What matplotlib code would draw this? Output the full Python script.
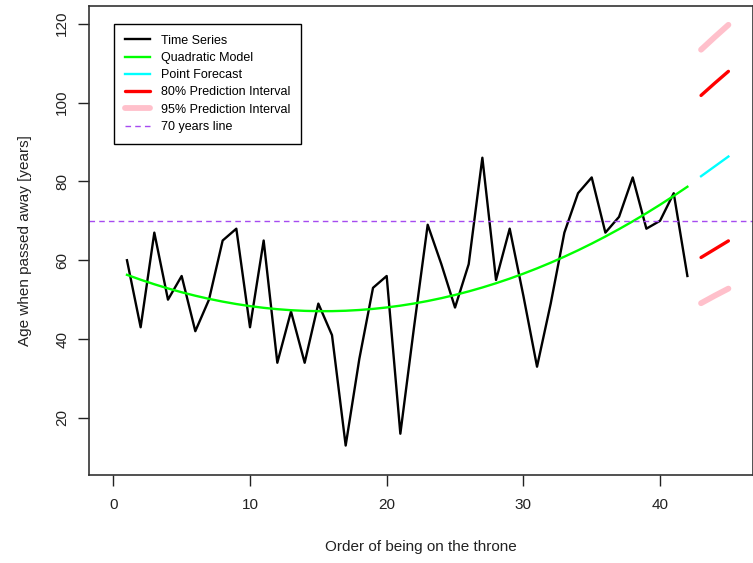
import numpy as np
import matplotlib.pyplot as plt

plt.rcParams['font.family'] = ['Liberation Sans', 'DejaVu Sans']

# ages of the kings of England when they died
ages = [60, 43, 67, 50, 56, 42, 50, 65, 68, 43, 65, 34, 47, 34, 49, 41, 13, 35, 53, 56, 16, 43,
        69, 59, 48, 59, 86, 55, 68, 51, 33, 49, 67, 77, 81, 67, 71, 81, 68, 70, 77, 56]
order = np.arange(1, len(ages) + 1)

# forecast for the next three kings
fc_x = [43, 44, 45]
fc_point = [81.3, 83.8, 86.3]
fc_lo80 = [60.7, 62.8, 64.9]
fc_hi80 = [101.8, 104.9, 107.9]
fc_lo95 = [49.1, 51.0, 52.8]
fc_hi95 = [113.4, 116.6, 119.7]

# quadratic trend fitted to the series
coef = np.polyfit(order, ages, 2)
trend = np.polyval(coef, order)

fig = plt.figure(figsize=(7.53, 5.63), dpi=100)
ax = fig.add_axes([0.1178, 0.1568, 0.8822, 0.8320])

ax.plot(order, ages, color='black', linewidth=1.7, label='Time Series')
ax.plot(order, trend, color='#00FF00', linewidth=1.7, label='Quadratic Model')
ax.plot(fc_x, fc_point, color='#00FFFF', linewidth=1.7, label='Point Forecast')
ax.plot(fc_x, fc_hi80, color='#FF0000', linewidth=2.4, solid_capstyle='round', label='80% Prediction Interval')
ax.plot(fc_x, fc_lo80, color='#FF0000', linewidth=2.4, solid_capstyle='round')
ax.plot(fc_x, fc_hi95, color='#FFC0CB', linewidth=4.2, solid_capstyle='round', label='95% Prediction Interval')
ax.plot(fc_x, fc_lo95, color='#FFC0CB', linewidth=4.2, solid_capstyle='round')
ax.axhline(70, color='#A64BF0', linewidth=1, linestyle=(0, (4, 3)), label='70 years line')

ax.set_xlim(-1.8, 46.8)
ax.set_ylim(5.6, 124.4)
ax.set_xticks([0, 10, 20, 30, 40])
ax.set_yticks([20, 40, 60, 80, 100, 120])
ax.tick_params(length=8, width=1, labelsize=11, pad=9, colors='#222222', labelcolor='#222222')
ax.tick_params(axis='y', pad=6)
for lbl in ax.get_yticklabels():
    lbl.set_rotation(90)
    lbl.set_va('center')
for s in ax.spines.values():
    s.set_color('#333333')
    s.set_linewidth(1.2)

ax.set_xlabel('Order of being on the throne', fontsize=11, labelpad=20, color='#222222')
ax.set_ylabel('Age when passed away [years]', fontsize=11, labelpad=17, color='#222222')

leg = ax.legend(loc='upper left', bbox_to_anchor=(0.038, 0.962), borderaxespad=0, fontsize=9,
                fancybox=False, frameon=True, edgecolor='black', framealpha=1,
                handlelength=2.0, handletextpad=0.9, labelspacing=0.42, borderpad=0.85)
leg.get_frame().set_linewidth(1)

fig.savefig('out.png', dpi=100)
